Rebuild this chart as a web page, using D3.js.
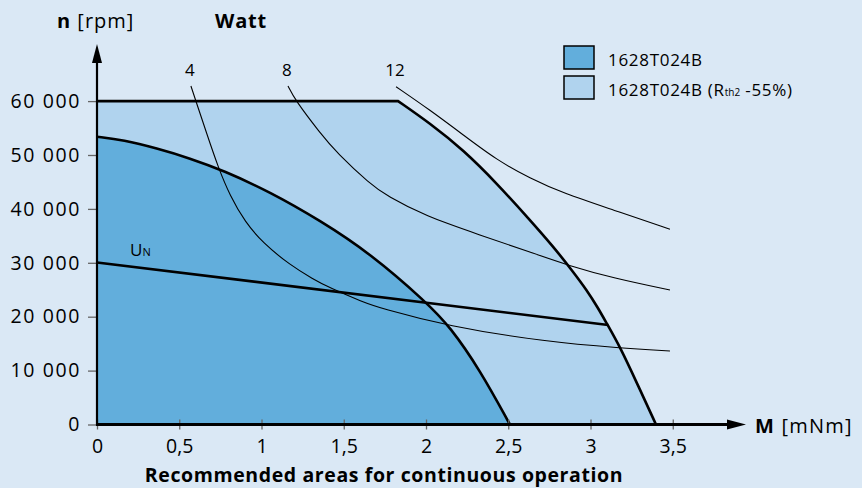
<!DOCTYPE html>
<html>
<head>
<script src="https://d3js.org/d3.v7.min.js"></script>
<title>1628T024B</title>
<style>
  body { margin: 0; background: #dae8f5; }
  svg { display: block; font-family: "Open Sans", sans-serif; }
</style>
</head>
<body>
<script>
var width = 862, height = 488;

// axis ticks
var xTicks = [0, 0.5, 1, 1.5, 2, 2.5, 3, 3.5];
var yTicks = [0, 10000, 20000, 30000, 40000, 50000, 60000];

// operating areas, [M mNm, n rpm]
var ratedTop = [[0, 60000], [1.83, 60000]];
var ratedCurve = [[1.83, 60000], [2.024, 55880], [2.227, 50930], [2.43, 44750], [2.632, 37940],
                  [2.774, 32990], [2.886, 28660], [2.977, 24950], [3.047, 21560], [3.098, 18780],
                  [3.179, 14430], [3.283, 7640], [3.398, 0]];
var standardCurve = [[0, 53400], [0.16, 52780], [0.363, 51240], [0.565, 49390], [0.768, 47120],
                     [1.052, 43140], [1.356, 37850], [1.66, 31760], [2.004, 22630], [2.146, 18140],
                     [2.328, 10110], [2.51, 0]];
var unLine = [[0, 30060], [3.108, 18460]];

// constant power curves
var wattNames = ["4", "8", "12"];
var watt4 = [[0.571, 62800], [0.601, 60020], [0.668, 53900], [0.736, 47770], [0.809, 42390],
             [0.9, 37570], [1.009, 33670], [1.173, 29590], [1.313, 26990], [1.416, 25320],
             [1.617, 22730], [1.72, 21620], [2.128, 18270], [2.736, 15310], [3.179, 14190],
             [3.483, 13640]];
var watt8 = [[1.161, 62800], [1.204, 60200], [1.356, 54080], [1.459, 50370], [1.66, 44620],
             [1.763, 42390], [1.994, 38680], [2.328, 35160], [2.632, 32000], [2.875, 29410],
             [3.137, 27180], [3.483, 24950]];
var watt12 = [[1.818, 62670], [2.024, 58350], [2.227, 53710], [2.43, 49070], [2.632, 45680],
              [2.835, 42890], [3.139, 39800], [3.483, 36210]];

var legendNames = ["1628T024B", "1628T024B"];

var darkBlue = "#62aedc", lightBlue = "#b0d3ee", bg = "#dae8f5";

var svg = d3.select("body").append("svg")
    .attr("width", width)
    .attr("height", height);

svg.append("rect").attr("width", width).attr("height", height).attr("fill", bg);

var x = d3.scaleLinear().domain([0, 3.93]).range([97, 743.5]);
var y = d3.scaleLinear().domain([0, 70500]).range([424.5, 44.5]);

// basis smoothing evens out the reading errors in the hand-read points
var curveLine = d3.line()
    .x(function(d) { return x(d[0]); })
    .y(function(d) { return y(d[1]); })
    .curve(d3.curveBasis);
var straight = d3.line()
    .x(function(d) { return x(d[0]); })
    .y(function(d) { return y(d[1]); });

// light area (R_th2 -55%)
var lightEdge = straight(ratedTop) + "L" + curveLine(ratedCurve).slice(1);
svg.append("path")
    .attr("d", "M" + x(0) + "," + y(0) + "L" + lightEdge.slice(1) + "Z")
    .attr("fill", lightBlue);

// dark area
var darkEdge = curveLine(standardCurve);
svg.append("path")
    .attr("d", "M" + x(0) + "," + y(0) + "L" + darkEdge.slice(1) + "Z")
    .attr("fill", darkBlue);

// power curves
var watts = [watt4, watt8, watt12];
svg.selectAll(".watt")
    .data(watts)
    .enter().append("path")
    .attr("class", "watt")
    .attr("d", curveLine)
    .attr("fill", "none")
    .attr("stroke", "#000")
    .attr("stroke-width", 1.1);

svg.selectAll(".watt-label")
    .data(watts)
    .enter().append("text")
    .attr("class", "watt-label")
    .attr("x", function(d) { return x(d[0][0]) - 1; })
    .attr("y", 76)
    .attr("text-anchor", "middle")
    .attr("font-size", 17)
    .text(function(d, i) { return wattNames[i]; });

// outlines
svg.append("path").attr("d", lightEdge)
    .attr("fill", "none").attr("stroke", "#000").attr("stroke-width", 2.6);
svg.append("path").attr("d", darkEdge)
    .attr("fill", "none").attr("stroke", "#000").attr("stroke-width", 2.6);
svg.append("path").attr("d", straight(unLine))
    .attr("fill", "none").attr("stroke", "#000").attr("stroke-width", 2.6);

var un = svg.append("text").attr("x", 130).attr("y", 256).attr("font-size", 17);
un.append("tspan").text("U");
un.append("tspan").attr("font-size", 11).text("N");

// y axis
var yAxis = svg.append("g")
    .attr("transform", "translate(" + x(0) + ",0)")
    .call(d3.axisLeft(y).tickValues(yTicks).tickSize(9).tickPadding(7)
        .tickFormat(function(d) { return d3.format(",")(d).replace(",", " "); }));
yAxis.select(".domain").remove();
yAxis.selectAll("line").attr("stroke", "#666").attr("stroke-width", 1.3);
yAxis.selectAll("text").attr("font-size", 19.5).attr("letter-spacing", 1.6)
    .attr("font-family", "Open Sans").attr("fill", "#000");

// x axis
var xAxis = svg.append("g")
    .attr("transform", "translate(0," + y(0) + ")")
    .call(d3.axisBottom(x).tickValues(xTicks).tickSize(5)
        .tickFormat(function(d) { return String(d).replace(".", ","); }));
xAxis.select(".domain").remove();
xAxis.selectAll("line").attr("y1", -5).attr("stroke", "#666").attr("stroke-width", 1.3);
xAxis.selectAll("text").attr("y", 28).attr("dy", null)
    .attr("font-size", 19.5).attr("font-family", "Open Sans").attr("fill", "#000");

// axis lines with arrows
svg.append("line").attr("x1", x(0)).attr("x2", x(0)).attr("y1", y(0) + 1).attr("y2", 60)
    .attr("stroke", "#000").attr("stroke-width", 2.2);
svg.append("polygon")
    .attr("points", [[x(0), 44], [x(0) - 5, 63], [x(0) + 5, 63]].join(" "))
    .attr("fill", "#000");
svg.append("line").attr("x1", x(0) - 1).attr("x2", 730).attr("y1", y(0)).attr("y2", y(0))
    .attr("stroke", "#000").attr("stroke-width", 2.8);
svg.append("polygon")
    .attr("points", [[746, y(0)], [727, y(0) - 5], [727, y(0) + 5]].join(" "))
    .attr("fill", "#000");

// axis titles
var ny = svg.append("text").attr("x", 57).attr("y", 28).attr("font-size", 20).attr("letter-spacing", 1);
ny.append("tspan").attr("font-weight", "bold").text("n");
ny.append("tspan").text(" [rpm]");
svg.append("text").attr("x", 215).attr("y", 28).attr("font-size", 20).attr("letter-spacing", 0.8)
    .attr("font-weight", "bold").text("Watt");
var mx = svg.append("text").attr("x", 755).attr("y", 433).attr("font-size", 20).attr("letter-spacing", 1.2);
mx.append("tspan").attr("font-weight", "bold").text("M");
mx.append("tspan").text(" [mNm]");
svg.append("text").attr("x", 384).attr("y", 482).attr("text-anchor", "middle")
    .attr("font-size", 19.5).attr("font-weight", "bold").attr("letter-spacing", 0.6)
    .text("Recommended areas for continuous operation");

// legend
var legend = svg.selectAll(".legend")
    .data(legendNames)
    .enter().append("g")
    .attr("class", "legend")
    .attr("transform", function(d, i) { return "translate(564," + (46 + 30 * i) + ")"; });
legend.append("rect")
    .attr("width", 30).attr("height", 23)
    .attr("fill", function(d, i) { return i == 0 ? darkBlue : lightBlue; })
    .attr("stroke", "#000").attr("stroke-width", 1.5);
var lt = legend.append("text")
    .attr("x", 44).attr("y", 19.5)
    .attr("font-size", 17).attr("letter-spacing", 0.7);
lt.append("tspan").text(function(d) { return d; });
lt.filter(function(d, i) { return i == 1; }).each(function() {
    var t = d3.select(this);
    t.append("tspan").text(" (R");
    t.append("tspan").attr("font-size", 10).attr("letter-spacing", 0).text("th2");
    t.append("tspan").text(" -55%)");
});
</script>
</body>
</html>
